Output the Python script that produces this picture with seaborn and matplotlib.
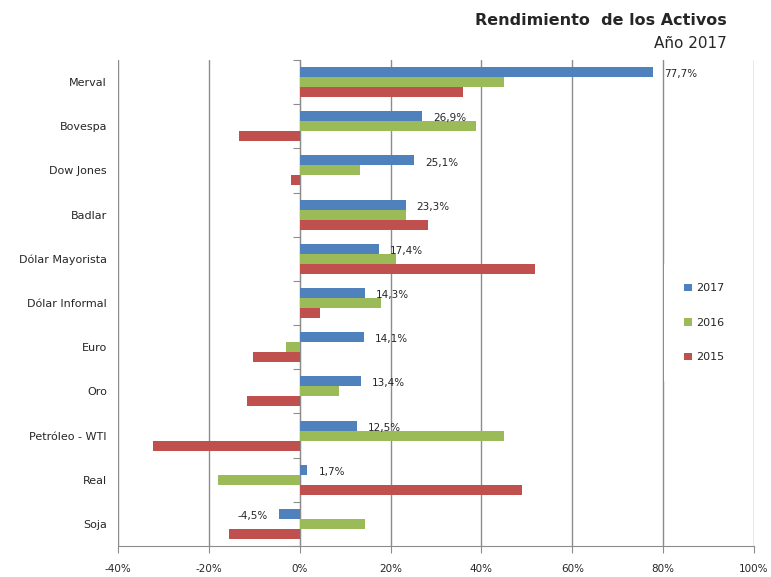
import numpy as np
import pandas as pd
import matplotlib
matplotlib.use("Agg")
import matplotlib.pyplot as plt
import seaborn as sns
from matplotlib.patches import Patch

# Datos: rendimiento anual (%) por activo
activos = ["Merval", "Bovespa", "Dow Jones", "Badlar", "Dólar Mayorista",
           "Dólar Informal", "Euro", "Oro", "Petróleo - WTI", "Real", "Soja"]
rend_2017 = [77.7, 26.9, 25.1, 23.3, 17.4, 14.3, 14.1, 13.4, 12.5, 1.7, -4.5]
rend_2016 = [45.0, 38.9, 13.3, 23.4, 21.3, 17.8, -3.0, 8.7, 45.0, -17.9, 14.4]
rend_2015 = [35.9, -13.3, -2.0, 28.2, 51.9, 4.4, -10.2, -11.5, -32.4, 49.0, -15.5]
anios = ["2017", "2016", "2015"]
colores = ["#4F81BD", "#9BBB59", "#C0504D"]
xticks = [-40, -20, 0, 20, 40, 60, 80, 100]

df = pd.DataFrame({
    "activo": activos * 3,
    "anio": [a for a in anios for _ in activos],
    "valor": rend_2017 + rend_2016 + rend_2015,
})

sns.set_style("white")
plt.rcParams["font.family"] = ["DejaVu Sans"]

fig = plt.figure(figsize=(7.71, 5.77), dpi=100)
ax = fig.add_axes([118 / 771, 31 / 577, 636 / 771, 486 / 577])

sns.barplot(data=df, x="valor", y="activo", hue="anio", hue_order=anios,
            palette=colores, orient="h", width=0.68, saturation=1,
            errorbar=None, legend=False, ax=ax, linewidth=0)

gris = "#8c8c8c"
ax.set_xlim(-40, 100)
ax.set_ylim(10.5, -0.5)
ax.set_xticks(xticks)
ax.set_xticklabels([f"{t}%" for t in xticks], fontsize=7.5)
ax.set_axisbelow(True)
ax.grid(axis="x", color=gris, lw=1)
ax.grid(axis="y", visible=False)
ax.set_xlabel("")
ax.set_ylabel("")
for s in ["top", "right", "left"]:
    ax.spines[s].set_visible(False)
ax.spines["bottom"].set_color(gris)
ax.tick_params(axis="x", length=5, color=gris, direction="out", pad=8, bottom=True)
ax.tick_params(axis="y", length=0, pad=8, labelsize=8)

# eje vertical en 0 con marcas entre categorias
sec = ax.secondary_yaxis(40 / 140)
sec.set_yticks(np.arange(-0.5, len(activos), 1))
sec.set_yticklabels([])
sec.tick_params(length=5, color=gris, direction="out")
sec.spines["left"].set_color(gris)

# etiquetas de 2017 (un poco por debajo del centro de la barra azul)
bars = ax.containers[0]
labels = [f"{b.get_width():.1f}%".replace(".", ",") for b in bars]
textos = ax.bar_label(bars, labels=labels, padding=8, fontsize=7.5)
for t in textos:
    t.xyann = (t.xyann[0], t.xyann[1] - 1.5)

handles = [Patch(facecolor=c, edgecolor="none") for c in colores]
leg = ax.legend(handles, anios, loc="center left", bbox_to_anchor=(0.85, 0.459),
                frameon=True, facecolor="white", edgecolor="none", framealpha=1,
                fontsize=8, handlelength=0.7, handleheight=0.7, handletextpad=0.4,
                labelspacing=2.2, borderpad=1.8)

fig.text(0.943, 0.965, "Rendimiento  de los Activos", ha="right", va="center",
         weight="bold", fontsize=11.5)
fig.text(0.943, 0.924, "Año 2017", ha="right", va="center", fontsize=11)

fig.savefig("out.png", dpi=100)
